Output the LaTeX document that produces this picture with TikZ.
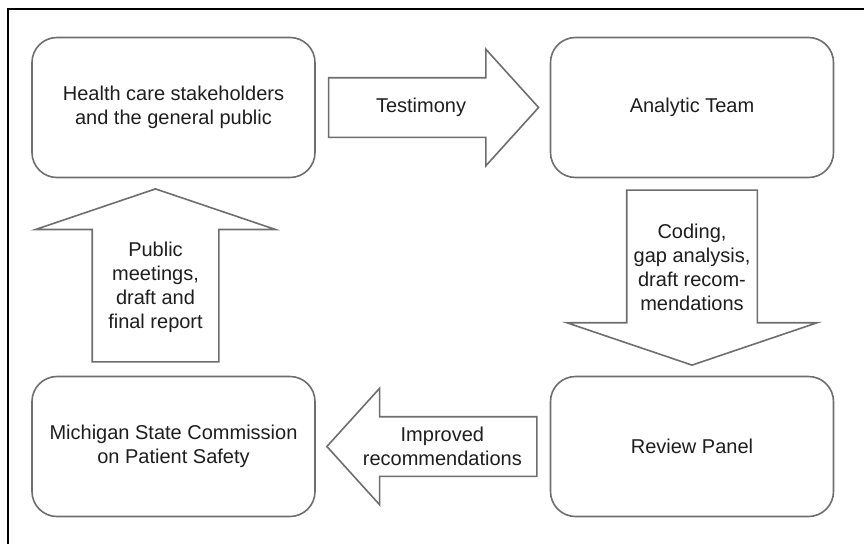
\documentclass[tikz,border=0pt]{standalone}
\usepackage{fontspec}
\setmainfont{Liberation Sans}
\usetikzlibrary{positioning,calc,shapes.arrows}
\definecolor{edge}{HTML}{6E6E6E}
\definecolor{ink}{HTML}{1E1E1E}
\tikzset{box/.style={draw=edge,line width=1.6pt,rounded corners=25pt,minimum width=283pt,minimum height=140pt,align=center,text=ink,font=\fontsize{20}{24}\selectfont}, blockarrow/.style={single arrow,draw=edge,line width=1.6pt,fill=white,inner xsep=0pt,anchor=tail}, flat/.style={blockarrow,inner ysep=29pt,minimum height=210pt,minimum width=115pt,single arrow head extend=28.5pt,single arrow tip angle=95.7}, tall/.style={blockarrow,single arrow tip angle=142.6}, note/.style={align=center,text=ink,font=\fontsize{20}{24}\selectfont,inner sep=0pt}}

\begin{document}
\begin{tikzpicture}[x=1pt,y=-1pt]
\useasboundingbox (0,0) rectangle (864,544);
\draw[line width=2pt] (864,9) -- (8,9) -- (8,544);
\node[box] (hc) at (173.5,107.5) {Health care stakeholders\\and the general public};
\node[box] (at) at (692,107.5) {Analytic Team};
\node[box] (rp) at (692,446.5) {Review Panel};
\node[box] (ms) at (173.5,446.5) {Michigan State Commission\\on Patient Safety};
\node[flat] (tm) at ($(hc.east)+(12,0)$) {};
\node[tall,rotate=-90,inner ysep=64.5pt,minimum height=175pt,minimum width=250pt,single arrow head extend=60pt] (cg) at ($(at.south)+(0,11)$) {};
\node[flat,rotate=180] (ir) at ($(rp.west)+(-12,0)$) {};
\node[tall,rotate=90,inner ysep=62.5pt,minimum height=173pt,minimum width=238pt,single arrow head extend=56.5pt] (pm) at ($(ms.north)+(-18,-13)$) {};
\node[note] (tmtext) at ($(tm.tail)!0.44!(tm.tip)$) {Testimony};
\node[note] (cgtext) at ($(cg.tail)!0.44!(cg.tip)$) {Coding,\\gap analysis,\\draft recom-\\mendations};
\node[note] (irtext) at ($(ir.tail)!0.45!(ir.tip)$) {Improved\\recommendations};
\node[note] (pmtext) at ($(pm.tail)!0.43!(pm.tip)$) {Public\\meetings,\\draft and\\final report};
\end{tikzpicture}
\end{document}
